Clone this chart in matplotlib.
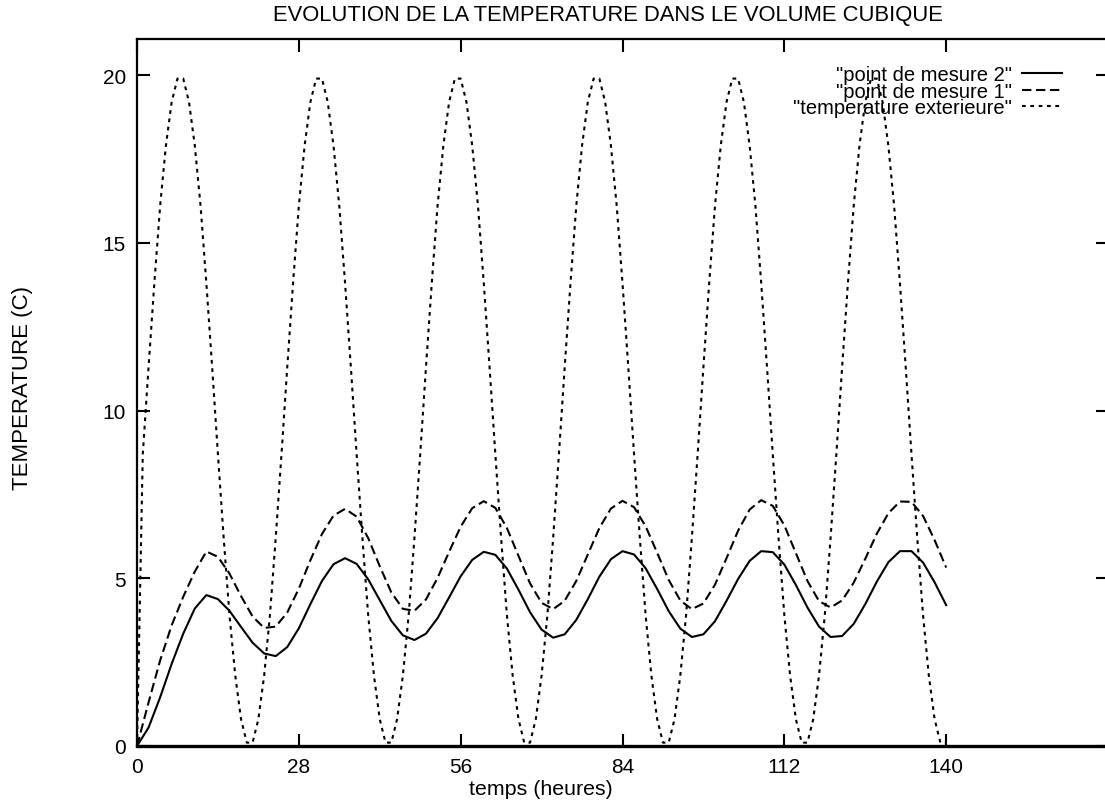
import matplotlib
matplotlib.use("Agg")
import matplotlib.pyplot as plt

# ---------------- data ----------------
hours_ext = list(range(0, 141))
temp_ext = [
    0.0, 8.7, 11.3, 13.8, 16.1, 17.9, 19.2, 19.9, 19.9, 19.2, 17.9, 16.1, 13.8, 11.3, 8.7, 6.2, 3.9, 2.1, 0.8, 0.1, 0.1, 0.8, 2.1, 3.9,
    6.2, 8.7, 11.3, 13.8, 16.1, 17.9, 19.2, 19.9, 19.9, 19.2, 17.9, 16.1, 13.8, 11.3, 8.7, 6.2, 3.9, 2.1, 0.8, 0.1, 0.1, 0.8, 2.1, 3.9,
    6.2, 8.7, 11.3, 13.8, 16.1, 17.9, 19.2, 19.9, 19.9, 19.2, 17.9, 16.1, 13.8, 11.3, 8.7, 6.2, 3.9, 2.1, 0.8, 0.1, 0.1, 0.8, 2.1, 3.9,
    6.2, 8.7, 11.3, 13.8, 16.1, 17.9, 19.2, 19.9, 19.9, 19.2, 17.9, 16.1, 13.8, 11.3, 8.7, 6.2, 3.9, 2.1, 0.8, 0.1, 0.1, 0.8, 2.1, 3.9,
    6.2, 8.7, 11.3, 13.8, 16.1, 17.9, 19.2, 19.9, 19.9, 19.2, 17.9, 16.1, 13.8, 11.3, 8.7, 6.2, 3.9, 2.1, 0.8, 0.1, 0.1, 0.8, 2.1, 3.9,
    6.2, 8.7, 11.3, 13.8, 16.1, 17.9, 19.2, 19.9, 19.9, 19.2, 17.9, 16.1, 13.8, 11.3, 8.7, 6.2, 3.9, 2.1, 0.8, 0.1, 0.1,
]

hours_int = list(range(0, 141, 2))
mesure2 = [
    0.0, 0.55, 1.45, 2.45, 3.35, 4.10, 4.50,
    4.38, 4.03, 3.55, 3.08, 2.76, 2.68,
    2.95, 3.51, 4.23, 4.92, 5.42, 5.60,
    5.43, 4.97, 4.35, 3.73, 3.30, 3.16,
    3.35, 3.81, 4.43, 5.06, 5.55, 5.79,
    5.70, 5.29, 4.66, 3.99, 3.47, 3.23,
    3.33, 3.76, 4.38, 5.05, 5.57, 5.81,
    5.71, 5.30, 4.68, 4.02, 3.50, 3.25,
    3.33, 3.72, 4.33, 4.98, 5.52, 5.81,
    5.78, 5.41, 4.80, 4.13, 3.56, 3.25,
    3.28, 3.64, 4.23, 4.90, 5.48, 5.81,
    5.81, 5.47, 4.88, 4.20,
]
mesure1 = [
    0.0, 1.30, 2.55, 3.60, 4.45, 5.20, 5.80,
    5.64, 5.14, 4.47, 3.86, 3.52, 3.56,
    3.98, 4.69, 5.54, 6.32, 6.87, 7.07,
    6.84, 6.20, 5.36, 4.58, 4.09, 4.03,
    4.37, 5.01, 5.79, 6.54, 7.09, 7.30,
    7.10, 6.50, 5.67, 4.85, 4.27, 4.08,
    4.33, 4.92, 5.71, 6.50, 7.08, 7.31,
    7.12, 6.55, 5.76, 4.95, 4.34, 4.08,
    4.25, 4.81, 5.60, 6.42, 7.05, 7.33,
    7.16, 6.58, 5.75, 4.92, 4.32, 4.13,
    4.34, 4.87, 5.58, 6.33, 6.94, 7.29,
    7.28, 6.86, 6.14, 5.32,
]

x_ticks = [0, 28, 56, 84, 112, 140]
y_ticks = [0, 5, 10, 15, 20]
labels = ['"point de mesure 2"', '"point de mesure 1"', '"temperature exterieure"']
title = "EVOLUTION DE LA TEMPERATURE DANS LE VOLUME CUBIQUE"
xlabel = "temps (heures)"
ylabel = "TEMPERATURE (C)"

# ---------------- figure ----------------
plt.rcParams['font.family'] = ['Liberation Sans', 'DejaVu Sans']
W, H = 1105, 804
fig = plt.figure(figsize=(W / 100, H / 100), dpi=100)
ax = fig.add_axes([137 / W, 1 - 747 / H, 971 / W, 707 / H])

lw = 1.5
ax.plot(hours_int, mesure2, color="black", lw=lw, ls="-", label=labels[0])
ax.plot(hours_int, mesure1, color="black", lw=lw, ls=(0, (4.5, 2.2)), label=labels[1])
ax.plot(hours_ext, temp_ext, color="black", lw=lw, ls=(0, (1.8, 2.2)), label=labels[2])

ax.set_xlim(0, 168)
ax.set_ylim(0, 21.08)
ax.set_xticks(x_ticks)
ax.set_yticks(y_ticks)
ax.tick_params(direction="in", length=9, width=1.5, top=True, right=True,
               labelsize=15, pad=8, colors="black")
for s in ax.spines.values():
    s.set_linewidth(1.6)
ax.spines["bottom"].set_linewidth(2.4)

leg = ax.legend(loc="upper right", bbox_to_anchor=((1062 - 137) / 971, 1 - 26 / 707),
                frameon=False, markerfirst=False, fontsize=14.5,
                handlelength=2.0, handletextpad=0.5, labelspacing=-0.12,
                borderaxespad=0, borderpad=0)

fig.text(608 / W, 1 - 15 / H, title, ha="center", va="center", fontsize=15.8)
fig.text(541 / W, 1 - 790 / H, xlabel, ha="center", va="center", fontsize=15.4)
fig.text(23 / W, 1 - 388 / H, ylabel, ha="center", va="center", rotation=90, fontsize=16)

fig.savefig("out.png", dpi=100)
